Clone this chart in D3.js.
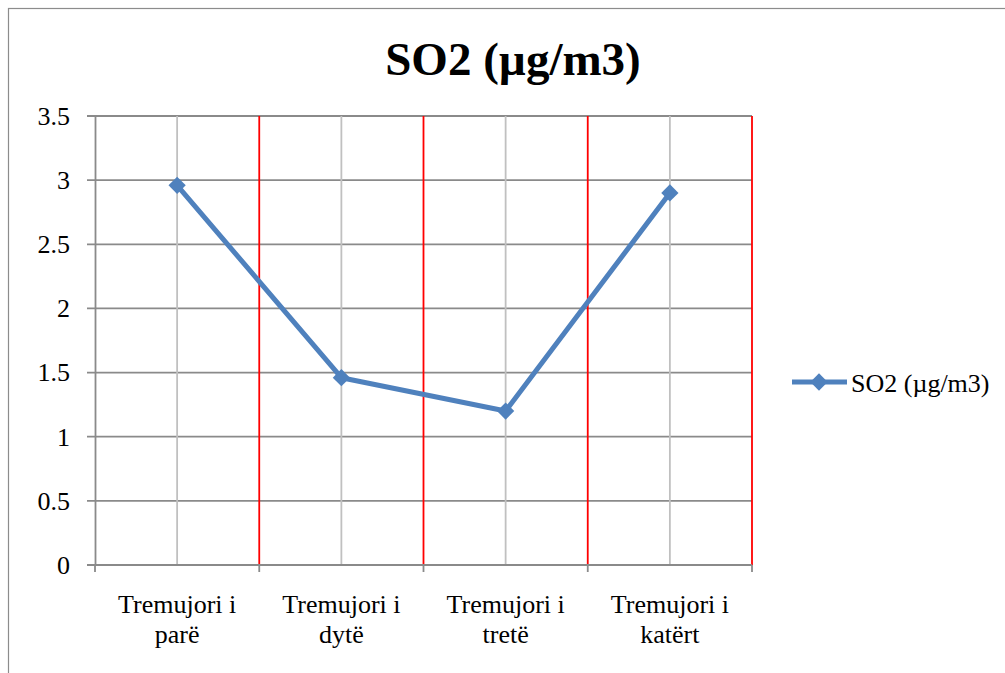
<!DOCTYPE html>
<html>
<head>
<meta charset="utf-8">
<script src="https://cdn.jsdelivr.net/npm/d3@7"></script>
<style>
  html, body { margin: 0; padding: 0; background: #fff; }
  svg { display: block; }
</style>
</head>
<body>
<svg id="chart" width="1005" height="673"></svg>
<script>
// Quarterly SO2 concentrations
const categories = [["Tremujori i", "parë"], ["Tremujori i", "dytë"], ["Tremujori i", "tretë"], ["Tremujori i", "katërt"]];
const values = [2.96, 1.46, 1.2, 2.9];
const yTicks = [0, 0.5, 1, 1.5, 2, 2.5, 3, 3.5];
const titleText = "SO2 (µg/m3)";
const seriesName = "SO2 (µg/m3)";

const svg = d3.select("#chart");
const font = "'Liberation Serif', 'Times New Roman', serif";
const lineColor = "#4F81BD";

const plot = { left: 95, right: 752, top: 116, bottom: 565 };

// outer chart frame
svg.append("rect")
  .attr("x", 8.5).attr("y", 8.5)
  .attr("width", 1100).attr("height", 800)
  .attr("fill", "none").attr("stroke", "#8c8c8c").attr("stroke-width", 1.2);

const x = d3.scaleBand()
  .domain(d3.range(categories.length))
  .range([plot.left, plot.right])
  .padding(0);

const y = d3.scaleLinear().domain([0, 3.5]).range([plot.bottom, plot.top]);

// horizontal gridlines
svg.append("g")
  .selectAll("line")
  .data(yTicks)
  .join("line")
  .attr("x1", plot.left - 8).attr("x2", plot.right)
  .attr("y1", d => y(d)).attr("y2", d => y(d))
  .attr("stroke", "#8a8a8a").attr("stroke-width", 1.8);

// vertical gridlines at category centres
svg.append("g")
  .selectAll("line")
  .data(d3.range(categories.length))
  .join("line")
  .attr("x1", d => x(d) + x.bandwidth() / 2).attr("x2", d => x(d) + x.bandwidth() / 2)
  .attr("y1", plot.top).attr("y2", plot.bottom)
  .attr("stroke", "#c0c0c0").attr("stroke-width", 1.8);

// red separators at category boundaries
svg.append("g")
  .selectAll("line")
  .data(d3.range(1, categories.length + 1))
  .join("line")
  .attr("x1", d => x.step() * d + plot.left).attr("x2", d => x.step() * d + plot.left)
  .attr("y1", plot.top).attr("y2", plot.bottom)
  .attr("stroke", "#ff0000").attr("stroke-width", 1.8);

// y axis
const yAxis = d3.axisLeft(y).tickValues(yTicks).tickSize(0).tickPadding(25).tickFormat(d3.format("~g"));
const gy = svg.append("g").attr("transform", `translate(${plot.left},0)`).call(yAxis);
gy.select(".domain").attr("stroke", "#8a8a8a").attr("stroke-width", 1.8);
gy.selectAll("text").attr("font-family", font).attr("font-size", 26).attr("fill", "#000");

// x axis with boundary ticks
const gx = svg.append("g").attr("transform", `translate(0,${plot.bottom})`);
gx.append("line").attr("x1", plot.left).attr("x2", plot.right)
  .attr("stroke", "#8a8a8a").attr("stroke-width", 1.8);
gx.selectAll("line.tick")
  .data(d3.range(0, categories.length + 1))
  .join("line").attr("class", "tick")
  .attr("x1", d => plot.left + x.step() * d).attr("x2", d => plot.left + x.step() * d)
  .attr("y1", 0).attr("y2", 7)
  .attr("stroke", "#8a8a8a").attr("stroke-width", 1.8);
const lbl = gx.selectAll("text")
  .data(categories)
  .join("text")
  .attr("font-family", font).attr("font-size", 26).attr("fill", "#000")
  .attr("text-anchor", "middle");
lbl.each(function(d, i) {
  const t = d3.select(this);
  d.forEach((s, k) => {
    t.append("tspan")
      .attr("x", x(i) + x.bandwidth() / 2)
      .attr("y", 48 + k * 30)
      .text(s);
  });
});

// series line
const line = d3.line().x((d, i) => x(i) + x.bandwidth() / 2).y(d => y(d));
svg.append("path")
  .datum(values)
  .attr("d", line)
  .attr("fill", "none").attr("stroke", lineColor).attr("stroke-width", 5)
  .attr("stroke-linejoin", "round");

const diamond = d3.symbol().type(d3.symbolDiamond2).size(190);
svg.append("g")
  .selectAll("path")
  .data(values)
  .join("path")
  .attr("d", diamond)
  .attr("transform", (d, i) => `translate(${x(i) + x.bandwidth() / 2},${y(d)})`)
  .attr("fill", lineColor);

// title
svg.append("text")
  .attr("x", 513).attr("y", 75)
  .attr("text-anchor", "middle")
  .attr("font-family", font).attr("font-size", 47).attr("font-weight", "bold")
  .text(titleText);

// legend
const lg = svg.append("g").attr("transform", "translate(792,382)");
lg.append("line").attr("x1", 0).attr("x2", 55).attr("y1", 0).attr("y2", 0)
  .attr("stroke", lineColor).attr("stroke-width", 5);
lg.append("path").attr("d", diamond).attr("transform", "translate(27,0)")
  .attr("fill", lineColor);
lg.append("text").attr("x", 59).attr("y", 10)
  .attr("font-family", font).attr("font-size", 26).attr("fill", "#000")
  .text(seriesName);
</script>
</body>
</html>
